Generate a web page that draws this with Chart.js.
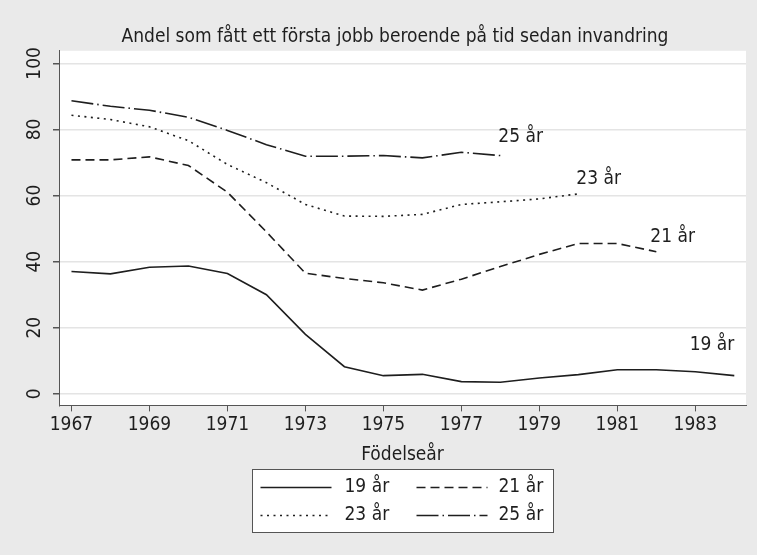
<!DOCTYPE html>
<html>
<head>
<meta charset="utf-8">
<script src="https://cdn.jsdelivr.net/npm/chart.js@4.4.1/dist/chart.umd.min.js"></script>
<style>
    html, body { margin: 0; padding: 0; background: #eaeaea; }
</style>
</head>
<body>
<canvas id="myChart" width="757" height="555"></canvas>
<script>
// data (percent with a first job, by birth year)
var years = [1967, 1968, 1969, 1970, 1971, 1972, 1973, 1974, 1975, 1976, 1977, 1978, 1979, 1980, 1981, 1982, 1983, 1984];
var ageLabels = ["19 år", "21 år", "23 år", "25 år"];
var andel19 = [37.0, 36.3, 38.3, 38.7, 36.4, 30.0, 18.0, 8.2, 5.5, 5.9, 3.7, 3.5, 4.8, 5.8, 7.3, 7.3, 6.7, 5.5];
var andel21 = [70.8, 70.8, 71.7, 69.1, 61.0, 49.0, 36.5, 34.9, 33.6, 31.4, 34.7, 38.5, 42.2, 45.5, 45.5, 43.0];
var andel23 = [84.3, 83.0, 80.8, 76.6, 69.4, 63.9, 57.3, 53.8, 53.7, 54.3, 57.3, 58.1, 59.0, 60.5];
var andel25 = [88.7, 87.0, 85.8, 83.7, 79.7, 75.4, 71.9, 71.9, 72.1, 71.4, 73.1, 72.1];
var xTicks = [1967, 1969, 1971, 1973, 1975, 1977, 1979, 1981, 1983];
var yTicks = [0, 20, 40, 60, 80, 100];

var FONT = '"Liberation Sans Narrow", "Arial Narrow", "DejaVu Sans Condensed", sans-serif';
var INK = "#1e1e1e";
var dashes = [[], [9, 5], [2, 4.5], [22, 4, 1.5, 4]];
// where each end label sits relative to the last point of its line
var endLabelPos = [
    { dx: 0, dy: -31, align: "right" },
    { dx: -6, dy: -15, align: "left" },
    { dx: -2, dy: -15, align: "left" },
    { dx: -2, dy: -18, align: "left" }
];

function toPoints(arr) {
    return arr.map(function (v, i) { return { x: years[i], y: v }; });
}

var series = [andel19, andel21, andel23, andel25];

var bgPlugin = {
    id: "bg",
    beforeDraw: function (chart) {
        var ctx = chart.ctx, a = chart.chartArea;
        ctx.save();
        ctx.fillStyle = "#eaeaea";
        ctx.fillRect(0, 0, chart.width, chart.height);
        ctx.fillStyle = "#ffffff";
        ctx.fillRect(a.left, a.top, a.right - a.left, a.bottom - a.top);
        ctx.restore();
    }
};

var yLabelPlugin = {
    id: "yLabels",
    afterDraw: function (chart) {
        var ctx = chart.ctx, y = chart.scales.y;
        ctx.save();
        ctx.font = "19px " + FONT;
        ctx.fillStyle = INK;
        ctx.textAlign = "center";
        ctx.textBaseline = "middle";
        yTicks.forEach(function (v) {
            ctx.save();
            ctx.translate(y.right - 24, y.getPixelForValue(v));
            ctx.rotate(-Math.PI / 2);
            ctx.fillText(String(v), 0, 0);
            ctx.restore();
        });
        ctx.restore();
    }
};

var endLabelPlugin = {
    id: "endLabels",
    afterDatasetsDraw: function (chart) {
        var ctx = chart.ctx;
        ctx.save();
        ctx.font = "19px " + FONT;
        ctx.fillStyle = INK;
        ctx.textBaseline = "middle";
        chart.data.datasets.forEach(function (ds, i) {
            var pts = chart.getDatasetMeta(i).data;
            var last = pts[pts.length - 1];
            var p = endLabelPos[i];
            ctx.textAlign = p.align;
            ctx.fillText(ds.label, last.x + p.dx, last.y + p.dy);
        });
        ctx.restore();
    }
};

var legendPlugin = {
    id: "boxLegend",
    afterDraw: function (chart) {
        var ctx = chart.ctx, a = chart.chartArea;
        var w = 301, h = 63;
        var left = Math.round((a.left + a.right) / 2 - w / 2) + 0.5;
        var top = Math.round(chart.scales.x.bottom + 3) + 0.5;
        ctx.save();
        ctx.fillStyle = "#ffffff";
        ctx.fillRect(left, top, w, h);
        ctx.strokeStyle = "#555";
        ctx.lineWidth = 1;
        ctx.strokeRect(left, top, w, h);
        ctx.font = "19px " + FONT;
        ctx.fillStyle = INK;
        ctx.textBaseline = "middle";
        ctx.textAlign = "left";
        chart.data.datasets.forEach(function (ds, i) {
            var col = i % 2, row = Math.floor(i / 2);
            var sx = left + (col ? 164 : 8);
            var sy = top + 18 + row * 28;
            ctx.strokeStyle = ds.borderColor;
            ctx.lineWidth = ds.borderWidth;
            ctx.setLineDash(ds.borderDash);
            ctx.beginPath();
            ctx.moveTo(sx, sy);
            ctx.lineTo(sx + 71, sy);
            ctx.stroke();
            ctx.setLineDash([]);
            ctx.fillText(ds.label, sx + (col ? 82 : 84), sy);
        });
        ctx.restore();
    }
};

var ctx = document.getElementById("myChart").getContext("2d");
var myChart = new Chart(ctx, {
    type: "line",
    data: {
        datasets: series.map(function (s, i) {
            return {
                label: ageLabels[i],
                data: toPoints(s),
                borderColor: INK,
                borderWidth: 1.6,
                borderDash: dashes[i],
                borderCapStyle: "butt",
                pointRadius: 0,
                tension: 0,
                fill: false
            };
        })
    },
    options: {
        responsive: false,
        devicePixelRatio: 1,
        animation: false,
        layout: { padding: { left: 44, right: 11, top: 0, bottom: 89 } },
        plugins: {
            legend: { display: false },
            tooltip: { enabled: false },
            title: {
                display: true,
                text: "Andel som fått ett första jobb beroende på tid sedan invandring",
                color: INK,
                font: { family: FONT, size: 19, weight: "normal" },
                padding: { top: 26, bottom: 2 }
            }
        },
        scales: {
            x: {
                type: "linear",
                min: 1966.68,
                max: 1984.3,
                afterBuildTicks: function (s) {
                    s.ticks = xTicks.map(function (v) { return { value: v }; });
                },
                grid: { drawOnChartArea: false, drawTicks: true, tickLength: 6, tickColor: "#555", lineWidth: 1 },
                border: { color: "#555", width: 1 },
                ticks: {
                    color: INK,
                    font: { family: FONT, size: 19 },
                    padding: 2,
                    maxRotation: 0,
                    autoSkip: false,
                    callback: function (v) { return String(v); }
                },
                title: {
                    display: true,
                    text: "Födelseår",
                    color: INK,
                    font: { family: FONT, size: 19 },
                    padding: { top: 5, bottom: 0 }
                }
            },
            y: {
                min: -3.5,
                max: 103.8,
                afterBuildTicks: function (s) {
                    s.ticks = yTicks.map(function (v) { return { value: v }; });
                },
                afterFit: function (s) { s.width = 15; },
                grid: { color: "#e4e4e4", lineWidth: 1.5, drawTicks: true, tickLength: 6, tickColor: "#555" },
                border: { color: "#555", width: 1 },
                ticks: { display: false }
            }
        }
    },
    plugins: [bgPlugin, yLabelPlugin, endLabelPlugin, legendPlugin]
});
</script>
</body>
</html>
